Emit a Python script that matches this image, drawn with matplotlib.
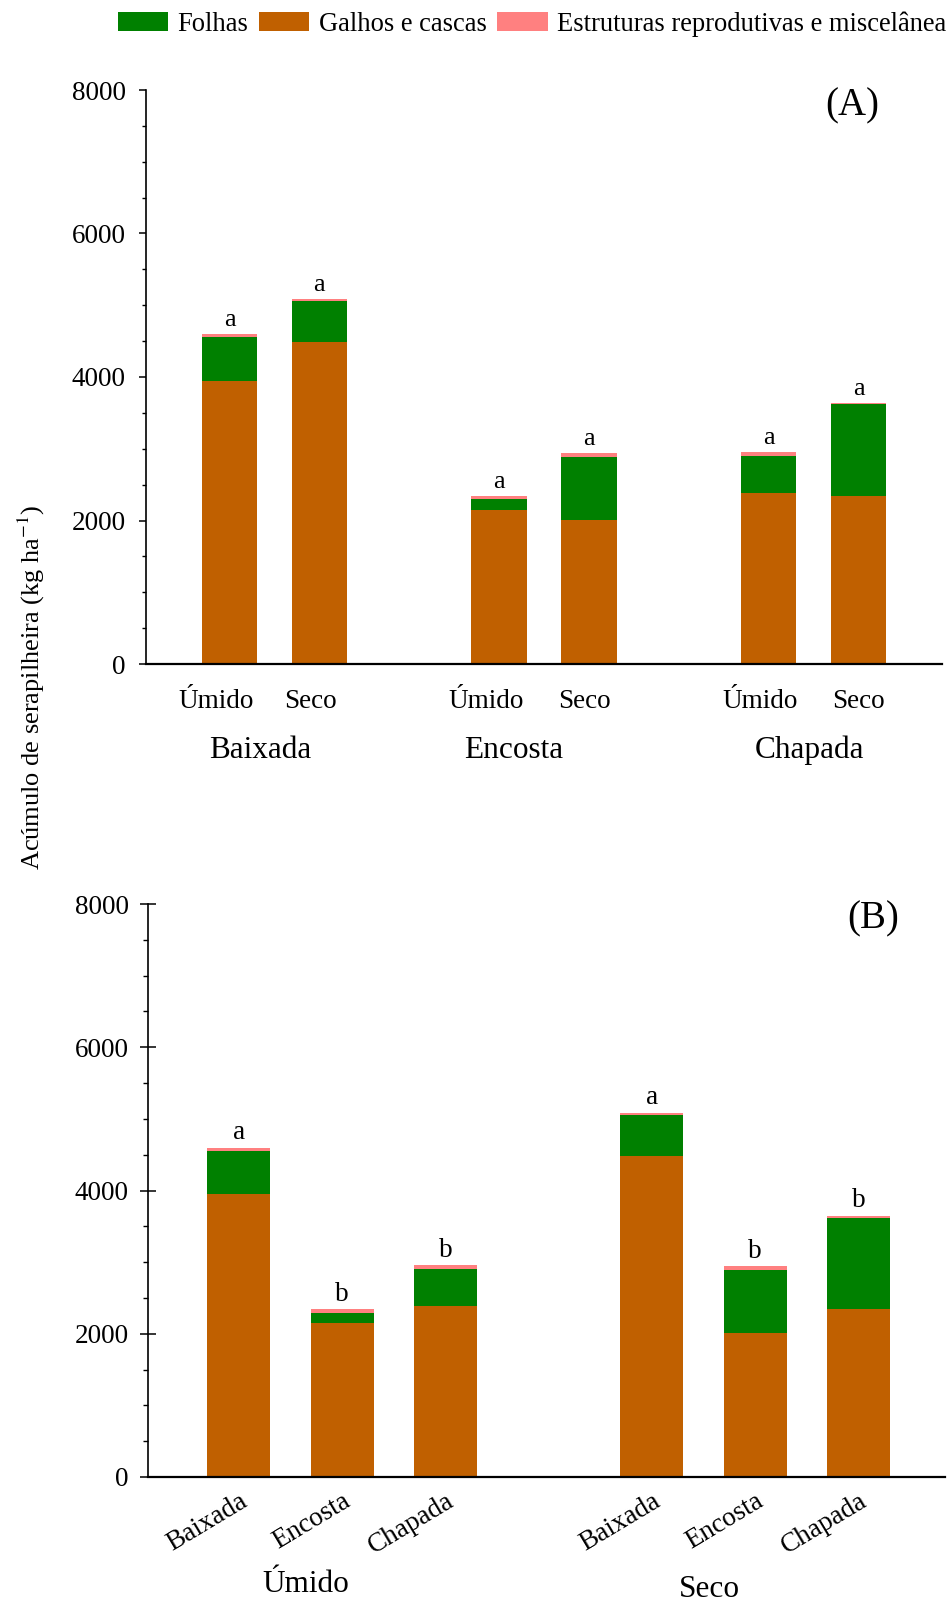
import matplotlib
matplotlib.use("Agg")
import matplotlib.pyplot as plt
from matplotlib.ticker import MultipleLocator
from matplotlib.patches import Patch
import matplotlib.transforms as mtransforms

plt.rcParams['font.family'] = ['Liberation Serif', 'DejaVu Serif']
plt.rcParams['mathtext.fontset'] = 'stix'

# ---- data (kg/ha) ----
# order: Baixada-Úmido, Baixada-Seco, Encosta-Úmido, Encosta-Seco, Chapada-Úmido, Chapada-Seco
relevo = ["Baixada", "Encosta", "Chapada"]
periodo = ["Úmido", "Seco"]
galhos = [3950, 4486, 2153, 2008, 2381, 2344]
folhas = [605, 567, 140, 881, 522, 1277]
repro = [43, 31, 47, 51, 51, 23]
letras_A = ["a", "a", "a", "a", "a", "a"]
letras_B = {"Úmido": ["a", "b", "b"], "Seco": ["a", "b", "b"]}

c_folhas = "#008000"
c_galhos = "#C06000"
c_repro = "#FF8080"

W, H = 951, 1602
fig = plt.figure(figsize=(W / 100, H / 100), dpi=100)

def style_axes(ax, major_dir):
    ax.spines['top'].set_visible(False)
    ax.spines['right'].set_visible(False)
    ax.spines['left'].set_linewidth(1.2)
    ax.spines['bottom'].set_linewidth(1.6)
    ax.set_ylim(0, 8000)
    ax.yaxis.set_major_locator(MultipleLocator(2000))
    ax.yaxis.set_minor_locator(MultipleLocator(500))
    if major_dir == 'out':
        ax.tick_params(axis='y', which='major', direction='out', length=5, width=1.1,
                       labelsize=19.5, pad=9.5)
        ax.tick_params(axis='y', which='minor', direction='out', length=3, width=1.0)
    else:
        ax.tick_params(axis='y', which='major', direction='inout', length=11, width=1.1,
                       labelsize=19.5, pad=8.5)
        ax.tick_params(axis='y', which='minor', direction='out', length=3.5, width=1.0)
    ax.tick_params(axis='x', which='both', length=0)
    ax.set_xticks([])

def stacked(ax, xs, g, f, r, width):
    ax.bar(xs, g, width=width, color=c_galhos, linewidth=0)
    ax.bar(xs, f, width=width, bottom=g, color=c_folhas, linewidth=0)
    bot = [a + b for a, b in zip(g, f)]
    ax.bar(xs, r, width=width, bottom=bot, color=c_repro, linewidth=0)
    return [a + b for a, b in zip(bot, r)]

# ---------------- Panel A ----------------
axA = fig.add_axes([146 / W, 1 - 664 / H, (942 - 146) / W, (664 - 90) / H])
style_axes(axA, 'out')
xA = [0, 1, 3, 4, 6, 7]
totA = stacked(axA, xA, galhos, folhas, repro, 0.62)
axA.set_xlim(-0.93, 7.93)
for x, t, l in zip(xA, totA, letras_A):
    axA.annotate(l, (x, t), xytext=(0, 2), textcoords='offset points',
                 ha='center', va='bottom', fontsize=19)
transA = mtransforms.blended_transform_factory(axA.transData, axA.transAxes)
shiftA = [-0.15, -0.1, -0.15, -0.05, -0.1, 0.0]
for i, x in enumerate(xA):
    axA.text(x + shiftA[i], -0.066, periodo[i % 2], transform=transA, ha='center',
             va='center', fontsize=19.5)
for name, gx in zip(relevo, [0.34, 3.16, 6.46]):
    axA.text(gx, -0.15, name, transform=transA, ha='center', va='center', fontsize=22.5)
axA.text(0.887, 0.972, "(A)", transform=axA.transAxes, ha='center', va='center', fontsize=28)

# ---------------- Panel B ----------------
axB = fig.add_axes([148 / W, 1 - 1477 / H, (945 - 148) / W, (1477 - 904) / H])
style_axes(axB, 'inout')
xB = [0, 1, 2, 4, 5, 6]
order = [0, 2, 4, 1, 3, 5]  # Úmido: B,E,C ; Seco: B,E,C
gB = [galhos[i] for i in order]
fB = [folhas[i] for i in order]
rB = [repro[i] for i in order]
totB = stacked(axB, xB, gB, fB, rB, 0.61)
axB.set_xlim(-0.88, 6.84)
letB = letras_B["Úmido"] + letras_B["Seco"]
for x, t, l in zip(xB, totB, letB):
    axB.annotate(l, (x, t), xytext=(0, 2), textcoords='offset points',
                 ha='center', va='bottom', fontsize=19.5)
transB = mtransforms.blended_transform_factory(axB.transData, axB.transAxes)
for i, x in enumerate(xB):
    axB.text(x + 0.0, -0.02, relevo[i % 3], transform=transB, ha='right', va='top',
             rotation=31, rotation_mode='anchor', fontsize=19.5)
axB.text(0.65, -0.187, "Úmido", transform=transB, ha='center', va='center', fontsize=22.5)
axB.text(4.56, -0.196, "Seco", transform=transB, ha='center', va='center', fontsize=22.5)
axB.text(0.91, 0.974, "(B)", transform=axB.transAxes, ha='center', va='center', fontsize=28)

# y label
fig.text(31 / W, 1 - 687 / H, "Acúmulo de serapilheira (kg ha$^{-1}$)", rotation=90,
         ha='center', va='center', fontsize=19)

# legend
handles = [Patch(facecolor=c_folhas, edgecolor='none'),
           Patch(facecolor=c_galhos, edgecolor='none'),
           Patch(facecolor=c_repro, edgecolor='none')]
labels = ["Folhas", "Galhos e cascas", "Estruturas reprodutivas e miscelânea"]
fig.legend(handles, labels, loc='center', bbox_to_anchor=(532 / W, 1 - 24 / H), ncol=3,
           frameon=False, fontsize=19.1, handlelength=1.9, handleheight=0.7,
           handletextpad=0.35, columnspacing=0.4, borderpad=0)

fig.savefig("out.png", dpi=100)
